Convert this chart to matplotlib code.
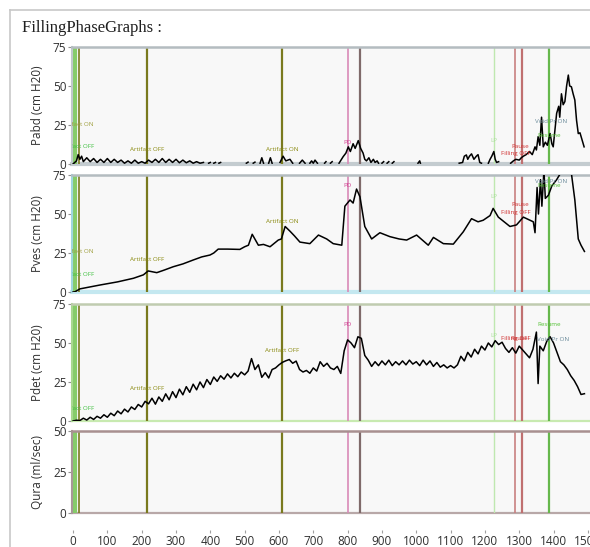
import numpy as np
import matplotlib
matplotlib.use("Agg")
import matplotlib.pyplot as plt
from matplotlib.lines import Line2D

plt.rcParams['font.family'] = ['Open Sans', 'DejaVu Sans']

nan = float('nan')

# ---------------- data ----------------
title = "FillingPhaseGraphs :"
ylabels = ["Pabd (cm H20)", "Pves (cm H20)", "Pdet (cm H20)", "Qura (ml/sec)"]
ylims = [75, 75, 75, 50]
xticks = [0, 100, 200, 300, 400, 500, 600, 700, 800, 900, 1000, 1100, 1200, 1300, 1400, 1500]

pabd_t = [0, 10, 15, 20, 25, 30, 40, 50, 60, 70, 80, 90, 100, 110, 120, 130, 140, 150, 160, 170,
          180, 190, 200, 210, 220, 230, 240, 250, 260, 270, 280, 290, 300, 310, 320, 330, 340,
          350, 360, 370, 380, 385,
          395, 400, 402, 410, 415, 417, 425, 430, 432,
          505, 510, 512, 525, 530, 532,
          545, 550, 555, 557, 570, 575, 580, 582,
          603, 612, 620, 632, 640, 642,
          660, 668, 676, 678,
          690, 695, 700, 705, 712, 714,
          733, 737, 739, 750, 755, 757,
          775, 787, 795, 802, 808, 816, 822, 831, 838, 845, 850, 855, 862, 868, 875, 880, 886, 890, 892,
          900, 905, 907, 915, 920, 922, 930, 935, 937, 1005, 1010, 1012, 1014,
          1125, 1135, 1140, 1146, 1150, 1155, 1161, 1168, 1175, 1180, 1185, 1190, 1192,
          1210, 1215, 1220, 1226, 1230, 1234, 1240, 1242,
          1275, 1283, 1290, 1300, 1306, 1312, 1320, 1330, 1338, 1346, 1350, 1355, 1360, 1365,
          1370, 1376, 1382, 1390, 1395, 1399, 1404, 1409, 1415, 1418, 1423, 1428, 1433, 1438,
          1443, 1447, 1452, 1457, 1462, 1467, 1472, 1477, 1481, 1485, 1489]
pabd_v = [0, 2, 6, 3, 5, 1.5, 4, 1.5, 3.5, 1, 3, 1, 3.5, 1, 3, 1, 2.5, 0.5, 2, 0.5,
          2.5, 0.5, 1.5, 0.5, 2.5, 1, 3, 1, 3.5, 1, 3, 1, 3, 0.8, 2.5, 0.8, 2,
          0.5, 1.5, 0.5, 1, nan,
          0.5, 1, nan, 0.5, 1, nan, 0.5, 1, nan,
          0.5, 1.2, nan, 0.5, 1.2, nan,
          0.5, 4, 0.5, nan, 0.5, 4, 0.5, nan,
          1, 5, 2, 3, 0.5, nan,
          0.5, 2.5, 0.5, nan,
          0.5, 2, 0.5, 2.5, 0.5, nan,
          0.5, 1.5, nan, 0.5, 1.5, nan,
          0.5, 4.7, 7, 11, 8, 13, 10, 15, 10, 7, 3, 2, 4, 1, 3, 1, 2, 0.5, nan,
          0.5, 1.5, nan, 0.5, 1.5, nan, 0.5, 1.5, nan, 0.5, 2, 0.5, nan,
          0.5, 1, 5, 5.8, 3, 5, 6.5, 3, 5, 6, 1, 0.5, nan,
          0.5, 3, 5, 8, 3, 1, 1.5, nan,
          0.5, 2, 3, 2.5, 4, 5, 6, 8, 6, 11, 9, 17.5, 12, 30,
          11, 14, 12, 19.5, 13, 11, 22, 32.5, 37, 30, 45, 38, 40, 50,
          57, 50, 49.5, 45, 41, 28, 19.5, 20, 17, 14, 11]

pves_t = [0, 6, 20, 79, 130, 176, 205, 219, 244, 265, 292, 320, 350, 375, 399, 410, 423, 450,
          486, 500, 511, 522, 540, 555, 574, 598, 607, 618, 632, 645, 661, 690, 715, 739, 758,
          783, 792, 807, 816, 826, 836, 850, 870, 894, 923, 950, 972, 1001, 1035, 1050, 1079,
          1108, 1137, 1161, 1180, 1195, 1215, 1224, 1239, 1273, 1292, 1312, 1341, 1346, 1352,
          1356, 1362, 1366, 1372, 1376, 1385, 1395, 1409, 1420, 1428, 1440, 1452, 1462, 1472,
          1480, 1490]
pves_v = [0, 0.2, 2, 4.5, 6.5, 8.8, 11, 13.5, 12.4, 14, 16.2, 18, 20.5, 22.5, 23.7, 25, 27.5, 27.5,
          27.3, 29, 30, 37, 30, 30.5, 29, 33.3, 34, 42, 39, 36, 32, 31, 36.5, 34, 31,
          30, 55, 59, 57, 66, 61, 42, 34, 38, 35.5, 34, 33.3, 36.5, 30, 35, 31,
          30.7, 38.6, 47, 45, 46, 49, 53.6, 48, 42, 43, 48, 45, 38, 67,
          50, 72, 55, 78, 60, 62, 68, 72, 76, 77, 77, 76, 59, 34,
          30, 26]

pdet_t = [0, 10, 20, 30, 40, 50, 60, 70, 80, 90, 100, 110, 120, 130, 140, 150, 160, 170, 180, 190,
          200, 210, 220, 230, 240, 250, 260, 270, 280, 290, 300, 310, 320, 330, 340, 350, 360, 370,
          380, 390, 400, 410, 420, 430, 440, 450, 460, 470, 480, 490, 500, 510, 520, 530, 540, 550,
          560, 570, 580, 590, 600, 610, 620, 630, 640, 650, 660, 670, 680, 690, 700, 710, 720, 730,
          740, 750, 760, 770, 780, 790, 800, 810, 820, 830, 840, 850, 860, 870, 880, 890, 900, 910,
          920, 930, 940, 950, 960, 970, 980, 990, 1000, 1010, 1020, 1030, 1040, 1050, 1060, 1070,
          1080, 1090, 1100, 1110, 1120, 1130, 1140, 1150, 1160, 1170, 1180, 1190, 1200, 1210, 1220,
          1230, 1240, 1250, 1260, 1270, 1280, 1290, 1300, 1310, 1320, 1330, 1340, 1350, 1355, 1360,
          1370, 1380, 1390, 1400, 1410, 1420, 1430, 1440, 1450, 1460, 1470, 1480, 1490]
pdet_v = [0.0, 0.5, 0.3, 1.8, 0.6, 2.4, 1.0, 3.0, 1.8, 4.0, 2.4, 5.0, 3.4, 6.4, 4.6, 7.6, 5.8, 9.0,
          7.4, 10.6, 9.0, 12.6, 11.0, 14.6, 10.8, 15.4, 12.6, 17.4, 13.6, 18.8, 15.0, 20.4, 16.8,
          22.0, 18.4, 23.6, 20.0, 25.0, 21.4, 26.6, 23.4, 28.2, 25.4, 29.0, 26.8, 30.2, 27.6, 30.6,
          28.4, 31.4, 29.6, 32.0, 40.0, 33.0, 36.0, 28.0, 31.0, 27.6, 33.0, 34.0, 36.0, 37.6, 38.6,
          39.4, 37.0, 38.4, 33.0, 31.4, 32.4, 30.6, 34.0, 32.0, 38.0, 35.0, 37.0, 34.0, 33.0, 35.0,
          30.5, 45.0, 52.0, 50.0, 47.0, 54.0, 53.0, 42.0, 39.0, 35.0, 38.0, 35.5, 38.5, 36.0, 39.0,
          35.5, 38.0, 36.0, 38.5, 36.0, 39.0, 36.5, 38.0, 35.5, 39.0, 36.0, 38.5, 35.0, 37.5, 34.5,
          36.0, 34.0, 35.5, 34.0, 36.0, 41.5, 38.5, 44.0, 41.0, 46.0, 43.0, 48.0, 45.5, 50.0, 47.5,
          51.5, 49.0, 50.5, 46.5, 44.0, 47.0, 43.5, 48.0, 45.5, 43.0, 40.5, 46.0, 57.0, 24.0, 48.0,
          45.0, 51.0, 54.0, 50.0, 44.0, 38.0, 36.0, 33.0, 29.0, 26.0, 22.0, 17.0, 17.5]

# event markers: time, colour, line width
event_t = [6, 18, 215, 610, 800, 835, 1226, 1287, 1308, 1386]
event_c = ['#86cc6a', '#7a7a1e', '#7a7a1e', '#7a7a1e', '#d98ab8', '#7f6a6a', '#bfe8b0',
           '#c88080', '#c07070', '#66b84c']
event_w = [3.0, 1.2, 1.6, 1.6, 1.2, 1.6, 1.0, 1.2, 1.6, 1.6]

# annotations: panel, time, value, text, colour
ann = [
    (0, 12, 25, "Artifact ON", '#a0a040'), (0, 12, 11, "Artifact OFF", '#40c040'),
    (0, 215, 9, "Artifact OFF", '#8a8a10'), (0, 610, 9, "Artifact ON", '#8a8a10'),
    (0, 800, 14, "PD", '#d04090'), (0, 1226, 15, "LP", '#a8e098'),
    (0, 1302, 11, "Pause", '#d03030'), (0, 1290, 6.5, "Filling OFF", '#d03030'),
    (0, 1392, 27, "Void Pr ON", '#6a8a9a'), (0, 1386, 18, "Resume", '#50c030'),
    (1, 12, 26, "Artifact ON", '#a0a040'), (1, 12, 11, "Artifact OFF", '#40c040'),
    (1, 215, 21, "Artifact OFF", '#8a8a10'), (1, 610, 45.5, "Artifact ON", '#8a8a10'),
    (1, 800, 68, "PD", '#d04090'), (1, 1226, 61, "LP", '#a8e098'),
    (1, 1302, 56.4, "Pause", '#d03030'), (1, 1290, 51, "Filling OFF", '#d03030'),
    (1, 1392, 71, "Void Pr ON", '#6a8a9a'), (1, 1386, 68.5, "Resume", '#50c030'),
    (2, 12, 8.3, "Artifact OFF", '#40c040'),
    (2, 215, 21, "Artifact OFF", '#8a8a10'), (2, 610, 45, "Artifact OFF", '#8a8a10'),
    (2, 800, 62, "PD", '#d04090'), (2, 1226, 54.5, "LP", '#a8e098'),
    (2, 1300, 53, "Pause", '#d03030'), (2, 1290, 53, "Filling OFF", '#d03030'),
    (2, 1386, 62, "Resume", '#50c030'), (2, 1398, 52, "Void Pr ON", '#6a8a9a'),
]

series = [(pabd_t, pabd_v), (pves_t, pves_v), (pdet_t, pdet_v), None]

# ---------------- figure ----------------
W, H = 590, 547
fig = plt.figure(figsize=(W / 100, H / 100), dpi=100)
fig.patch.set_facecolor('white')

def fy(px):
    return 1 - px / H

# outer frame
fig.add_artist(Line2D([10 / W, 1], [fy(10), fy(10)], color='#c8c8c8', lw=1.2))
fig.add_artist(Line2D([10 / W, 10 / W], [fy(10), 0], color='#c8c8c8', lw=1.2))

fig.text(22 / W, fy(28), title, family='Liberation Serif', fontsize=12, va='center', ha='left',
         color='#202020')

panels_px = [(47, 164), (175, 292), (304, 421), (431, 513)]
left_px, right_px = 72, 592
xmin, xmax = -3, 1512

left_c = ['#c0c8cc', '#9fd6df', '#a8d890', '#a89898']
top_c = ['#b4bcc0', '#b4bcc0', '#c0ccb0', '#a89090']
bot_c = ['#c4ccd0', '#c4e8f0', '#c8eab0', '#b8a8a8']
bot_w = [3.0, 3.0, 1.6, 1.6]

axes = []
for i, (top, bot) in enumerate(panels_px):
    ax = fig.add_axes([left_px / W, fy(bot), (right_px - left_px) / W, (bot - top) / H])
    ax.set_facecolor('#f8f8f8')
    ax.set_xlim(xmin, xmax)
    ax.set_ylim(0, ylims[i])
    ax.set_yticks(np.arange(0, ylims[i] + 1, 25))
    ax.tick_params(axis='y', length=3, width=0.8, color='#909090', labelsize=8.5, pad=1,
                   labelcolor='#303030')
    for s in ax.spines.values():
        s.set_visible(False)
    ax.spines['left'].set_visible(True)
    ax.spines['left'].set_color(left_c[i])
    ax.spines['left'].set_linewidth(1.5)
    ax.spines['top'].set_visible(True)
    ax.spines['top'].set_color(top_c[i])
    ax.spines['top'].set_linewidth(1.8)
    ax.axhline(0, color=bot_c[i], lw=bot_w[i], zorder=1, clip_on=False)
    for t, c, w in zip(event_t, event_c, event_w):
        ax.axvline(t, color=c, lw=w, zorder=2)
    if series[i] is not None:
        ax.plot(series[i][0], series[i][1], color='black', lw=1.1, zorder=4)
    ax.set_ylabel(ylabels[i], fontsize=8.5, color='#303030')
    ax.yaxis.set_label_coords((44 - left_px) / (right_px - left_px), 0.5)
    ax.set_xticks(xticks)
    if i < 3:
        ax.tick_params(axis='x', bottom=False, labelbottom=False)
    else:
        ax.spines['bottom'].set_visible(True)
        ax.spines['bottom'].set_position(('outward', 12))
        ax.spines['bottom'].set_color('none')
        ax.tick_params(axis='x', length=2, width=0.8, color='#a0a0a0', labelsize=8.5, pad=1.5,
                       labelcolor='#303030')
    axes.append(ax)

for p, t, v, txt, c in ann:
    axes[p].text(t, v, txt, fontsize=4.5, color=c, ha='center', va='center', zorder=5,
                 clip_on=True)

fig.savefig('out.png', dpi=100)
